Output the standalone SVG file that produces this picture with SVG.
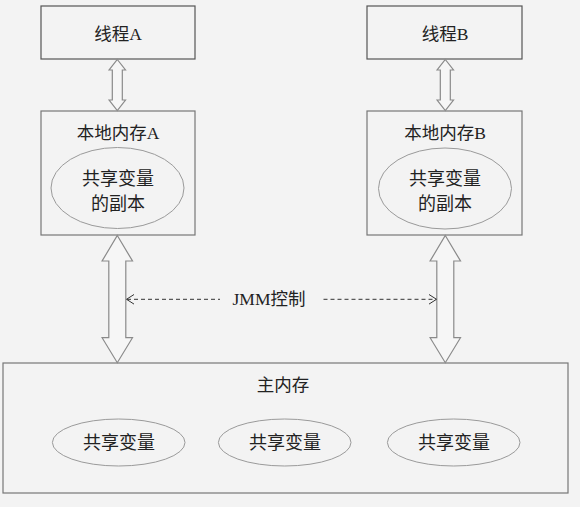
<svg xmlns="http://www.w3.org/2000/svg" width="580" height="507" viewBox="0 0 580 507">
<defs>
<style>
.bg{fill:#f3f3f3}
.box{fill:none;stroke:#555;stroke-width:1.2}
.box2{fill:none;stroke:#777;stroke-width:1.2}
.ell{fill:none;stroke:#9a9a9a;stroke-width:1}
.arr{fill:#f6f6f6;stroke:#8a8a8a;stroke-width:1.2;stroke-linejoin:miter}
.dash{fill:none;stroke:#333;stroke-width:1;stroke-dasharray:4 3}
.chev{fill:none;stroke:#333;stroke-width:1}
text{font-family:"Liberation Serif","Noto Sans CJK SC",serif;font-size:17.5px;fill:#222;text-anchor:middle;dominant-baseline:central}
.et{font-size:18px}
</style>
</defs>
<rect class="bg" x="0" y="0" width="580" height="507"/>
<g id="threadA"><rect class="box" x="41" y="6" width="154" height="53"/><text x="118" y="34">线程A</text></g>
<g id="threadB"><rect class="box" x="367" y="6" width="155" height="53"/><text x="445" y="34">线程B</text></g>
<g id="localA"><rect class="box2" x="41" y="111" width="154" height="124"/><text x="118" y="133">本地内存A</text>
<ellipse class="ell" cx="117.5" cy="188" rx="66.5" ry="40.5"/><text class="et" x="118" y="179">共享变量</text><text class="et" x="118" y="204">的副本</text></g>
<g id="localB"><rect class="box2" x="367" y="111" width="155" height="124"/><text x="445" y="133">本地内存B</text>
<ellipse class="ell" cx="445" cy="188.5" rx="66.5" ry="40.5"/><text class="et" x="445" y="179">共享变量</text><text class="et" x="445" y="204">的副本</text></g>
<g id="mainMemory"><rect class="box2" x="3" y="363" width="565" height="130"/><text x="283" y="385">主内存</text></g>
<g id="var1"><ellipse class="ell" cx="118.7" cy="442.5" rx="66.3" ry="23.5"/><text class="et" x="119" y="443">共享变量</text></g>
<g id="var2"><ellipse class="ell" cx="284.7" cy="442.5" rx="66.3" ry="23.5"/><text class="et" x="285" y="443">共享变量</text></g>
<g id="var3"><ellipse class="ell" cx="453.7" cy="442.5" rx="66.3" ry="23.5"/><text class="et" x="454" y="443">共享变量</text></g>
<g id="connectors">
<polygon class="arr" points="117.3,59.5 125.5,70 122.3,70 122.3,100 125.5,100 117.3,110.5 109.1,100 112.3,100 112.3,70 109.1,70"/>
<polygon class="arr" points="445.3,59.5 453.5,70 450.3,70 450.3,100 453.5,100 445.3,110.5 437.1,100 440.3,100 440.3,70 437.1,70"/>
<polygon class="arr" points="117.3,235.5 132.5,261 125.8,261 125.8,337.7 132.5,337.7 117.3,362.7 102.1,337.7 108.8,337.7 108.8,261 102.1,261"/>
<polygon class="arr" points="445.3,235.5 460.5,261 453.8,261 453.8,337.7 460.5,337.7 445.3,362.7 430.1,337.7 436.8,337.7 436.8,261 430.1,261"/>
<line class="dash" x1="127" y1="299.3" x2="220" y2="299.3"/>
<polyline class="chev" points="134,294.5 126.5,299.3 134,304.1"/>
<line class="dash" x1="323.5" y1="299.3" x2="436" y2="299.3"/>
<polyline class="chev" points="429,294.5 436.5,299.3 429,304.1"/>
<text x="269" y="299">JMM控制</text>
</g>
</svg>
